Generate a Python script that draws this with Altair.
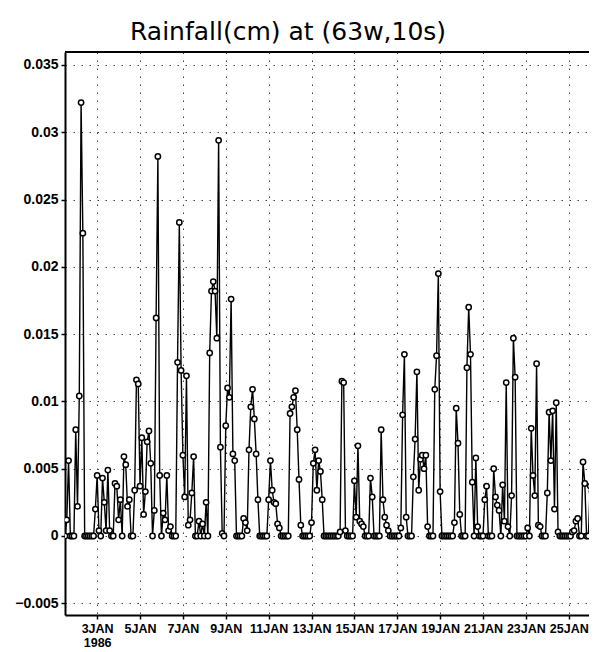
import altair as alt
import numpy as np
import pandas as pd

# 2-hourly rainfall (cm) starting 1 JAN 1986 12Z, one row = one day (12 values)
rain = [
    0, 0.0012, 0.0056, 0, 0, 0, 0.0079, 0.0022, 0.0104, 0.0322, 0.0225, 0,
    0, 0, 0, 0, 0, 0.002, 0.0045, 0.0004, 0, 0.0043, 0.0025, 0.0004,
    0.0049, 0.0004, 0, 0, 0.0039, 0.0037, 0.0012, 0.0027, 0, 0.0059, 0.0053, 0.0022,
    0.0027, 0, 0, 0.0034, 0.0116, 0.0113, 0.0037, 0.0073, 0.0016, 0.0033, 0.007, 0.0078,
    0.0054, 0, 0.0019, 0.0162, 0.0282, 0.0045, 0, 0.0017, 0.0012, 0.0045, 0.0004, 0.0007,
    0, 0, 0, 0.0129, 0.0233, 0.0123, 0.006, 0.0029, 0.0119, 0.0008, 0.0012, 0.0032,
    0.0059, 0, 0, 0.0011, 0, 0.0009, 0, 0.0025, 0, 0.0136, 0.0182, 0.0189,
    0.0182, 0.0147, 0.0294, 0.0066, 0.0002, 0, 0.0082, 0.011, 0.0103, 0.0176, 0.0061, 0.0056,
    0, 0, 0, 0, 0.0013, 0.001, 0.0004, 0.0064, 0.0096, 0.0109, 0.0087, 0.0061,
    0.0027, 0, 0, 0, 0, 0, 0.0027, 0.0056, 0.0034, 0.0025, 0.0024, 0.0009,
    0.0006, 0, 0, 0, 0, 0, 0.0091, 0.0096, 0.0103, 0.0108, 0.0079, 0.0042,
    0.0008, 0, 0, 0, 0, 0, 0.001, 0.0054, 0.0064, 0.0034, 0.0056, 0.0048,
    0.0027, 0, 0, 0, 0, 0, 0, 0, 0, 0, 0.0003, 0.0115,
    0.0114, 0.0004, 0, 0, 0, 0, 0.0041, 0.0014, 0.0067, 0.0011, 0.0009, 0.0007,
    0, 0, 0, 0.0043, 0.0029, 0, 0, 0, 0, 0.0079, 0.0027, 0.0014,
    0.0008, 0.0004, 0, 0, 0, 0, 0, 0, 0.0006, 0.009, 0.0135, 0.0014,
    0, 0, 0, 0.0044, 0.0072, 0.0122, 0.0034, 0.0057, 0.006, 0.005, 0.006, 0.0007,
    0, 0, 0, 0.0109, 0.0134, 0.0195, 0.0033, 0, 0, 0, 0, 0,
    0, 0, 0.001, 0.0095, 0.0069, 0.0016, 0, 0, 0, 0.0125, 0.017, 0.0135,
    0.004, 0, 0.0058, 0.0007, 0, 0, 0, 0.0027, 0.0037, 0, 0, 0,
    0.005, 0.0029, 0.0023, 0.0019, 0, 0.0038, 0.0011, 0.0114, 0.0007, 0, 0.003, 0.0147,
    0.0118, 0, 0, 0, 0, 0, 0, 0.0006, 0, 0.008, 0.0045, 0.003,
    0.0128, 0.0008, 0.0007, 0, 0, 0, 0.0032, 0.0092, 0.0056, 0.0093, 0.002, 0.0099,
    0.0003, 0, 0, 0, 0, 0, 0, 0, 0.0003, 0.0004, 0.0011, 0.0013,
    0, 0, 0.0055, 0.0039, 0, 0, 0.0037, 0.0033, 0.0116, 0.0121,
]

START_DAY = 1.5          # 1 JAN 12Z
STEP_DAYS = 1.0 / 12.0   # 2-hourly
day = START_DAY + np.arange(len(rain)) * STEP_DAYS

x_ticks = [3, 5, 7, 9, 11, 13, 15, 17, 19, 21, 23, 25]
y_ticks = [-0.005, 0, 0.005, 0.01, 0.015, 0.02, 0.025, 0.03, 0.035]
x_domain = [1.5, 25.945]
y_domain = [-0.00587, 0.03596]

df = pd.DataFrame({"day": day, "rain": rain})

W, H = 524, 563

xaxis = alt.Axis(
    values=x_ticks,
    labelExpr="datum.value == 3 ? ['3JAN', '1986'] : datum.value + 'JAN'",
    title=None,
    grid=True,
    labelFlush=False,
    labelOverlap=False,
    labelBound=False,
    tickSize=4,
    labelPadding=3,
    labelFontSize=12.5,
    labelLineHeight=14,
)
yaxis = alt.Axis(
    values=y_ticks,
    format="~g",
    title=None,
    grid=True,
    labelFlush=False,
    labelOverlap=False,
    tickSize=4,
    labelPadding=3,
    labelFontSize=14,
)

base = alt.Chart(df).encode(
    x=alt.X("day:Q", scale=alt.Scale(domain=x_domain, nice=False, zero=False), axis=xaxis),
    y=alt.Y("rain:Q", scale=alt.Scale(domain=y_domain, nice=False, zero=False), axis=yaxis),
)

line = base.mark_line(color="black", strokeWidth=1.4, clip=True)
pts = base.mark_point(
    shape="circle", filled=True, fill="white", stroke="black",
    strokeWidth=1.5, size=28, opacity=1, clip=True,
)
top = alt.Chart(pd.DataFrame({"v": [y_domain[1]]})).mark_rule(
    color="black", strokeWidth=2
).encode(y=alt.Y("v:Q"))

chart = (
    alt.layer(line, pts, top)
    .properties(
        width=W,
        height=H,
        autosize=alt.AutoSizeParams(type="none"),
        padding={"left": 57, "top": 44, "right": 0, "bottom": 34},
        title=alt.TitleParams(
            text="Rainfall(cm) at (63w,10s)",
            anchor="start",
            frame="group",
            dx=65,
            dy=27,
            offset=13,
            baseline="alphabetic",
            font="DejaVu Sans",
            fontSize=25,
            fontWeight="normal",
            color="black",
        ),
    )
    .configure_view(stroke="transparent")
    .configure_axis(
        domainColor="black",
        domainWidth=2,
        tickColor="black",
        tickWidth=1.5,
        labelFont="Liberation Sans",
        labelFontWeight="bold",
        labelColor="black",
        gridColor="#444444",
        gridDash=[1.5, 6.5],
        gridWidth=1,
    )
)

chart.save("out.html", embed_options={"renderer": "svg", "actions": False})
